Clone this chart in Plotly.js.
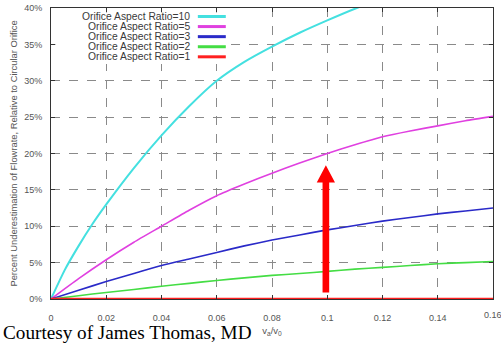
<!DOCTYPE html>
<html>
<head>
<meta charset="utf-8">
<script src="https://cdn.plot.ly/plotly-3.0.1.min.js"></script>
<style>html,body{margin:0;padding:0;background:#fff;}#chart{width:501px;height:345px;}</style>
</head>
<body>
<div id="chart"></div>
<script>
// ---- data ----
const xCyan = [0, 0.005, 0.01, 0.015, 0.02, 0.03, 0.04, 0.05, 0.06, 0.07, 0.08, 0.09, 0.10, 0.11, 0.12];
const yCyan = [0, 4.0, 7.3, 10.3, 13.0, 18.0, 22.5, 26.5, 30.0, 32.6, 34.7, 36.6, 38.3, 39.9, 41.3];
const xAll = [0, 0.01, 0.02, 0.03, 0.04, 0.05, 0.06, 0.07, 0.08, 0.09, 0.10, 0.11, 0.12, 0.13, 0.14, 0.15, 0.16];
const yAR5 = [0, 2.8, 5.4, 7.8, 10.0, 12.2, 14.2, 15.8, 17.3, 18.7, 20.0, 21.2, 22.3, 23.1, 23.8, 24.5, 25.1];
const yAR3 = [0, 1.2, 2.4, 3.5, 4.6, 5.5, 6.4, 7.3, 8.1, 8.8, 9.5, 10.1, 10.7, 11.2, 11.7, 12.1, 12.5];
const yAR2 = [0, 0.45, 0.9, 1.3, 1.75, 2.15, 2.55, 2.9, 3.25, 3.5, 3.8, 4.1, 4.35, 4.6, 4.85, 5.0, 5.15];
const yAR1 = [0, 0, 0, 0, 0, 0, 0, 0, 0, 0, 0, 0, 0, 0, 0, 0, 0];
const seriesNames = ["Orifice Aspect Ratio=10", "Orifice Aspect Ratio=5", "Orifice Aspect Ratio=3", "Orifice Aspect Ratio=2", "Orifice Aspect Ratio=1"];
const xTickVals = [0, 0.02, 0.04, 0.06, 0.08, 0.10, 0.12, 0.14, 0.16];
const xTickText = ["0", "0.02", "0.04", "0.06", "0.08", "0.1", "0.12", "0.14", "0.16"];
const yTickVals = [0, 5, 10, 15, 20, 25, 30, 35, 40];
const yTickText = ["0%", "5%", "10%", "15%", "20%", "25%", "30%", "35%", "40%"];
const arrowX = 0.0995, arrowTail = 0.9, arrowTip = 18.4;

// ---- styles ----
const colors = ["#44e0e0", "#e040e0", "#2a2ac8", "#44dd44", "#ff2020"];
const widths = [2, 1.6, 1.6, 1.6, 2.6];

const xs = [xCyan, xAll, xAll, xAll, xAll];
const ys = [yCyan, yAR5, yAR3, yAR2, yAR1];
const traces = ys.map((y, i) => ({
  x: xs[i], y: y, type: 'scatter', mode: 'lines', name: seriesNames[i],
  line: {color: colors[i], width: widths[i], shape: 'spline', smoothing: 0.6},
  showlegend: false, hoverinfo: 'skip'
}));

const annotations = [];
const shapes = [];
const L = 51, T = 8, W = 442.5, H = 291.5;
const px2x = p => (p - L) / W;
const py2y = p => 1 - (p - T) / H;

// opaque legend box (gnuplot style: text right-aligned, sample on the right)
shapes.push({type: 'rect', xref: 'paper', yref: 'paper', x0: px2x(55.5), x1: px2x(230), y0: py2y(64), y1: py2y(12.5),
  fillcolor: '#ffffff', line: {width: 0}, layer: 'above'});
const legTextX = 192, legLine0 = 198, legLine1 = 226, legY0 = 16.5, legDY = 10.1;
seriesNames.forEach((n, i) => {
  const yy = py2y(legY0 + i * legDY);
  annotations.push({xref: 'paper', yref: 'paper', x: px2x(legTextX), y: yy, xanchor: 'right', yanchor: 'middle',
    text: n, showarrow: false, font: {family: 'Liberation Sans, Arial, sans-serif', size: 10.3, color: '#3a3a3a'}});
  shapes.push({type: 'line', xref: 'paper', yref: 'paper', x0: px2x(legLine0), x1: px2x(legLine1), y0: yy, y1: yy,
    line: {color: colors[i], width: 3}, layer: 'above'});
});

const tickFont = {family: 'Liberation Sans, Arial, sans-serif', size: 9, color: '#555'};

// last x tick label, cut by the right edge of the picture as in the original
annotations.push({xref: 'x', yref: 'paper', x: xTickVals[xTickVals.length - 1], y: py2y(316), xanchor: 'center', yanchor: 'middle',
  text: xTickText[xTickText.length - 1], showarrow: false, font: tickFont});

// courtesy text
annotations.push({xref: 'paper', yref: 'paper', x: px2x(1), y: py2y(333), xanchor: 'left', yanchor: 'middle',
  text: 'Courtesy of James Thomas, MD', showarrow: false,
  font: {family: 'Liberation Serif, Times New Roman, serif', size: 19.2, color: '#000'}});

// red arrow as filled path in data coordinates
const hw = 0.0033, sw = 0.0012, headH = 2.4;
const arrowPath = `M ${arrowX - sw},${arrowTail} L ${arrowX - sw},${arrowTip - headH} L ${arrowX - hw},${arrowTip - headH} ` +
  `L ${arrowX},${arrowTip} L ${arrowX + hw},${arrowTip - headH} L ${arrowX + sw},${arrowTip - headH} L ${arrowX + sw},${arrowTail} Z`;
shapes.push({type: 'path', xref: 'x', yref: 'y', path: arrowPath, fillcolor: '#ff0000', line: {width: 0}, layer: 'above'});

const layout = {
  width: 501, height: 345,
  margin: {l: L, r: 501 - L - W, t: T, b: 345 - T - H, pad: 0},
  paper_bgcolor: '#fff', plot_bgcolor: '#fff',
  showlegend: false,
  xaxis: {
    range: [0, 0.16], tickvals: xTickVals.slice(0, -1), ticktext: xTickText.slice(0, -1),
    showgrid: true, gridcolor: '#8a8a8a', griddash: 'dash', gridwidth: 1,
    zeroline: false, showline: true, linecolor: '#333', linewidth: 1, mirror: 'ticks',
    ticks: 'inside', ticklen: 4, tickcolor: '#333', tickfont: tickFont, ticklabelstandoff: 10,
    title: {text: 'v<sub>a</sub>/v<sub>0</sub>', font: {family: 'Liberation Sans, Arial, sans-serif', size: 9.5, color: '#555'}, standoff: 5}
  },
  yaxis: {
    range: [0, 40], tickvals: yTickVals, ticktext: yTickText,
    showgrid: true, gridcolor: '#8a8a8a', griddash: 'dash', gridwidth: 1,
    zeroline: false, showline: true, linecolor: '#333', linewidth: 1, mirror: 'ticks',
    ticks: 'inside', ticklen: 4, tickcolor: '#333', tickfont: tickFont, ticklabelstandoff: 6,
    title: {text: 'Percent Underestimation of Flowrate, Relative to Circular Orifice', font: {family: 'Liberation Sans, Arial, sans-serif', size: 9.4, color: '#555'}, standoff: 4}
  },
  annotations: annotations,
  shapes: shapes
};

Plotly.newPlot('chart', traces, layout, {staticPlot: true, displayModeBar: false});
</script>
</body>
</html>
